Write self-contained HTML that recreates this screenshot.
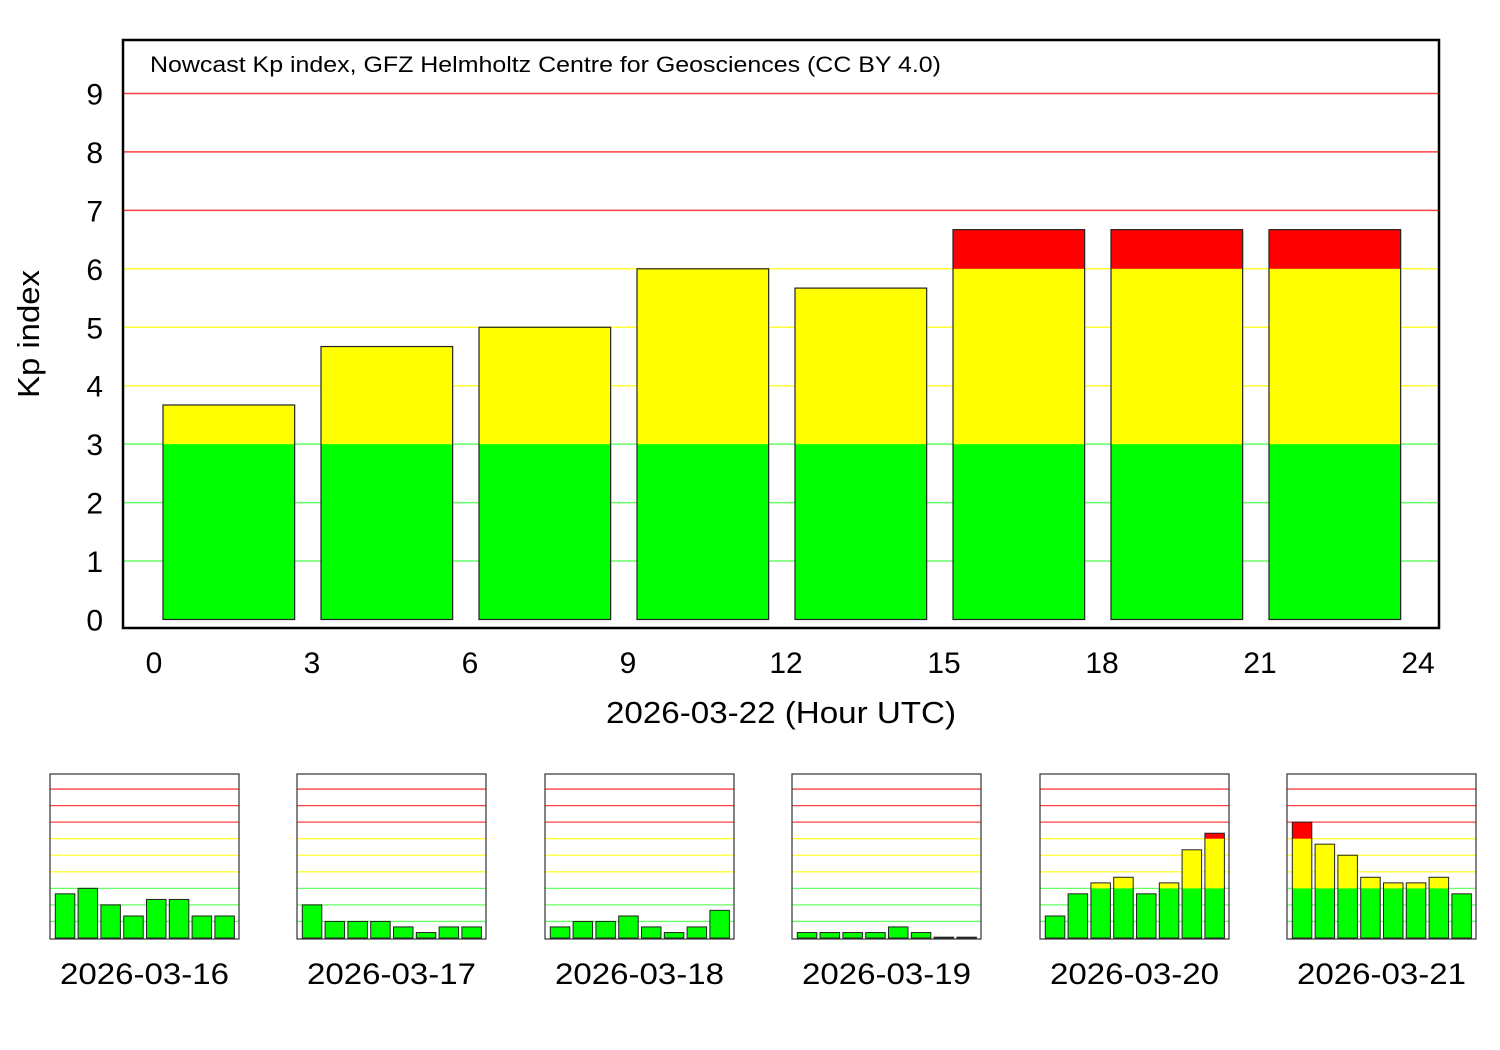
<!DOCTYPE html>
<html><head><meta charset="utf-8"><style>
body{margin:0;background:#fff;}
svg{display:block;font-family:"Liberation Sans",sans-serif;}
</style></head><body>
<svg id="chart" width="1500" height="1050" xmlns="http://www.w3.org/2000/svg"></svg>
<script>
const mainValues = [3.67, 4.67, 5, 6, 5.67, 6.67, 6.67, 6.67];
const hourTicks = [0, 3, 6, 9, 12, 15, 18, 21, 24];
const kpTicks = [0, 1, 2, 3, 4, 5, 6, 7, 8, 9];
const dayLabels = ["2026-03-16","2026-03-17","2026-03-18","2026-03-19","2026-03-20","2026-03-21"];
const day16 = [2.67, 3.0, 2.0, 1.33, 2.33, 2.33, 1.33, 1.33];
const day17 = [2.0, 1.0, 1.0, 1.0, 0.67, 0.33, 0.67, 0.67];
const day18 = [0.67, 1.0, 1.0, 1.33, 0.67, 0.33, 0.67, 1.67];
const day19 = [0.33, 0.33, 0.33, 0.33, 0.67, 0.33, 0.05, 0.05];
const day20 = [1.33, 2.67, 3.33, 3.67, 2.67, 3.33, 5.33, 6.33];
const day21 = [7.0, 5.67, 5.0, 3.67, 3.33, 3.33, 3.67, 2.67];
const dayValues = [day16, day17, day18, day19, day20, day21];

const svg = document.getElementById('chart');
const NS = 'http://www.w3.org/2000/svg';
function mk(tag, attrs, parent){const e=document.createElementNS(NS,tag);for(const k in attrs)e.setAttribute(k,attrs[k]);(parent||svg).appendChild(e);return e;}
function gridColor(k){return k<=3?'#66ff66':(k<=6?'#ffff33':'#ff4040');}

const X0=154, XW=(1418-154)/24, Y0=619.5, YU=58.45;
const xs=h=>X0+h*XW, ys=k=>Y0-k*YU;
for(const k of kpTicks){
  if(k>0){const l=mk('line',{x1:123,x2:1439,y1:ys(k),y2:ys(k),stroke:gridColor(k),'stroke-width':1.5});
  
  }
  const t=mk('text',{x:103,y:ys(k)+11,'text-anchor':'end','font-size':30});t.textContent=k;
  
  
}
for(const h of hourTicks){
  const t=mk('text',{x:xs(h),y:673,'text-anchor':'middle','font-size':30});t.textContent=h;
  
  
}
function drawBar(x,w,v,yf,name){
  const g=mk('g',{});
  
  
  const segs=[[0,Math.min(v,3),'#00ff00'],[3,Math.min(v,6),'#ffff00'],[6,v,'#ff0000']];
  for(const s of segs){if(s[1]>s[0])mk('rect',{x:x,y:yf(s[1]),width:w,height:yf(s[0])-yf(s[1]),fill:s[2]},g);}
  mk('rect',{x:x,y:yf(v),width:w,height:yf(0)-yf(v),fill:'none',stroke:'#222',"stroke-width":1.2},g);
}
mainValues.forEach((v,i)=>drawBar(xs(i*3)+9,XW*2.5,v,ys,'bar-'+i*3+'h'));
const frame=mk('rect',{x:123,y:40,width:1316,height:588,fill:'none',stroke:'#000','stroke-width':2.5});


let t=mk('text',{x:150,y:72,'font-size':22,textLength:791,lengthAdjust:'spacingAndGlyphs'});t.textContent='Nowcast Kp index, GFZ Helmholtz Centre for Geosciences (CC BY 4.0)';


t=mk('text',{x:606,y:723,'font-size':31,textLength:350,lengthAdjust:'spacingAndGlyphs'});t.textContent='2026-03-22 (Hour UTC)';


t=mk('text',{x:-398,y:0,'font-size':31,textLength:128,lengthAdjust:'spacingAndGlyphs',transform:'translate(39,0) rotate(-90)'});t.textContent='Kp index';



const boxX=[50,297,545,792,1040,1287];
dayValues.forEach((vals,d)=>{
  const bx=boxX[d], sy=k=>938-k*16.55;
  const g=mk('g',{});
  
  
  for(let k=1;k<=9;k++)mk('line',{x1:bx,x2:bx+189,y1:sy(k),y2:sy(k),stroke:gridColor(k),'stroke-width':1.3},g);
  vals.forEach((v,i)=>{
    const gb=mk('g',{},g);
    
    
    const segs=[[0,Math.min(v,3),'#00ff00'],[3,Math.min(v,6),'#ffff00'],[6,v,'#ff0000']];
    for(const s of segs){if(s[1]>s[0])mk('rect',{x:bx+5.3+i*22.8,y:sy(s[1]),width:19.5,height:sy(s[0])-sy(s[1]),fill:s[2]},gb);}
    mk('rect',{x:bx+5.3+i*22.8,y:sy(v),width:19.5,height:sy(0)-sy(v),fill:'none',stroke:'#222','stroke-width':1},gb);
  });
  mk('rect',{x:bx,y:774,width:189,height:165,fill:'none',stroke:'#333','stroke-width':1.2},g);
  const tl=mk('text',{x:bx+10,y:984,'font-size':30,textLength:169,lengthAdjust:'spacingAndGlyphs'},g);tl.textContent=dayLabels[d];
  
  
});
</script>
</body></html>
